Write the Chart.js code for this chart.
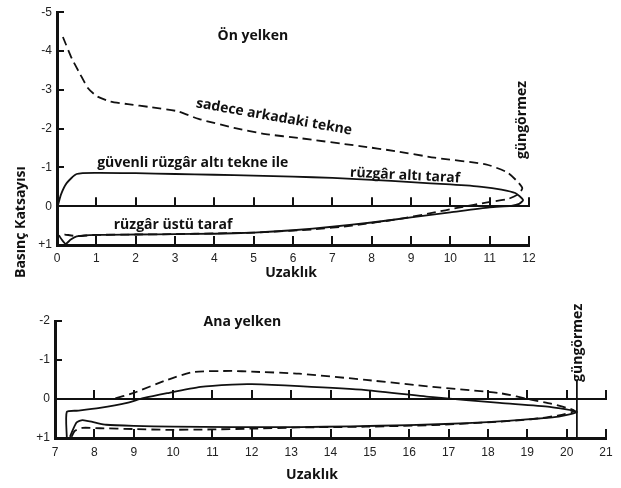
<!DOCTYPE html>
<html lang="tr">
<head>
<meta charset="utf-8">
<script src="https://cdn.jsdelivr.net/npm/chart.js@4/dist/chart.umd.min.js"></script>
<style>
  html, body { margin: 0; padding: 0; background: #fff; }
  #kutu { position: relative; width: 621px; height: 488px; }
  canvas { position: absolute; left: 0; }
</style>
</head>
<body>
<div id="kutu">
  <canvas id="onYelken" width="621" height="300" style="top:0"></canvas>
  <canvas id="anaYelken" width="621" height="188" style="top:300px"></canvas>
</div>
<script>
// Ön yelken - eksenler
const onXTicks = [0, 1, 2, 3, 4, 5, 6, 7, 8, 9, 10, 11, 12];
const onYTicks = [-5, -4, -3, -2, -1, 0, 1];

// güvenli rüzgâr altı tekne ile (düz çizgi)
const onGuvenliX = [0.02, 0.1, 0.25, 0.5, 1, 2, 3, 4, 5, 6, 7, 8, 9, 10, 10.8, 11.3, 11.65, 11.85, 11.75, 11.55, 11, 10, 9, 8, 7, 6, 5, 4, 3, 2, 1, 0.5, 0.35, 0.22, 0.12, 0.05];
const onGuvenliY = [0, -0.3, -0.6, -0.83, -0.86, -0.85, -0.83, -0.81, -0.79, -0.76, -0.73, -0.68, -0.62, -0.56, -0.5, -0.43, -0.34, -0.16, -0.06, -0.01, 0.03, 0.16, 0.29, 0.42, 0.53, 0.62, 0.68, 0.71, 0.72, 0.73, 0.74, 0.78, 0.86, 0.97, 0.86, 0.75];

// sadece arkadaki tekne (kesikli)
const onSadeceX = [0.15, 0.38, 0.58, 0.79, 1.02, 1.35, 1.8, 2.4, 3.05, 3.6, 4.5, 5.3, 6.2, 7.7, 8.6, 9.6, 10.9, 11.45, 11.73, 11.83, 11.73, 11.45, 10.94, 10.25, 9.5, 8.7, 7.5, 6.5, 5, 4, 3, 2, 1, 0.5, 0.2, 0.1];
const onSadeceY = [-4.36, -3.8, -3.42, -3.04, -2.83, -2.7, -2.63, -2.55, -2.45, -2.25, -2.02, -1.86, -1.75, -1.55, -1.42, -1.25, -1.08, -0.87, -0.61, -0.46, -0.31, -0.18, -0.1, 0.03, 0.18, 0.33, 0.5, 0.6, 0.68, 0.7, 0.72, 0.73, 0.74, 0.77, 0.73, 0.72];

// Ana yelken - eksenler
const anaXTicks = [7, 8, 9, 10, 11, 12, 13, 14, 15, 16, 17, 18, 19, 20, 21];
const anaYTicks = [-2, -1, 0, 1];

const anaGuvenliX = [7.38, 7.45, 7.55, 7.7, 8.0, 8.3, 9, 10, 11.5, 13.2, 14.5, 16, 17.47, 18.5, 19.3, 19.8, 20.26, 19.57, 18.3, 16.6, 14.9, 13.2, 12, 11.5, 10.7, 9.85, 9.24, 8.83, 8.14, 7.6, 7.3, 7.3];
const anaGuvenliY = [0.97, 0.8, 0.6, 0.54, 0.6, 0.66, 0.69, 0.71, 0.72, 0.72, 0.7, 0.67, 0.62, 0.56, 0.5, 0.45, 0.33, 0.2, 0.1, -0.05, -0.23, -0.33, -0.38, -0.37, -0.31, -0.15, -0.02, 0.1, 0.23, 0.3, 0.33, 1.0];

const anaSadeceX = [7.42, 7.5, 7.7, 8.14, 9, 9.85, 11, 12, 13.2, 14.9, 16.6, 18, 19.1, 19.8, 20.2, 19.6, 19.15, 18.3, 16.6, 14.9, 13.2, 12, 11.5, 10.5, 9.85, 8.98, 8.47];
const anaSadeceY = [0.97, 0.82, 0.74, 0.75, 0.77, 0.79, 0.78, 0.76, 0.73, 0.71, 0.67, 0.6, 0.52, 0.42, 0.3, 0.12, 0.03, -0.15, -0.31, -0.49, -0.65, -0.7, -0.72, -0.69, -0.49, -0.15, 0.0];

// güngörmez çizgisi
const anaGungormezX = [20.26, 20.26];
const anaGungormezY = [-0.49, 1];

const siyah = '#111';
const tickFont = { family: '"Liberation Sans", Arial, sans-serif', size: 12 };

function noktalar(xs, ys) {
    return xs.map((x, i) => ({ x: x, y: ys[i] }));
}

function cizgi(xs, ys, kesikli) {
    return {
        data: noktalar(xs, ys),
        xAxisID: 'x',
        yAxisID: 'y',
        showLine: true,
        borderColor: siyah,
        borderWidth: 1.8,
        borderDash: kesikli ? [9, 5] : [],
        pointRadius: 0,
        tension: 0.2
    };
}

// Yazilar, veri koordinatlarinda konumlanir
function etiketEklentisi(liste) {
    return {
        id: 'etiketler',
        afterDraw(chart) {
            const ctx = chart.ctx;
            const sx = chart.scales.x, sy = chart.scales.y;
            liste.forEach(e => {
                ctx.save();
                ctx.translate(sx.getPixelForValue(e.x), sy.getPixelForValue(e.y));
                ctx.rotate((e.aci || 0) * Math.PI / 180);
                ctx.font = 'bold ' + (e.boyut || 14) + 'px "Open Sans", sans-serif';
                ctx.fillStyle = siyah;
                ctx.textAlign = 'center';
                ctx.textBaseline = 'middle';
                ctx.fillText(e.metin, 0, 0);
                ctx.restore();
            });
        }
    };
}

// Eksen cizgilerinin icine dogru kisa tik isaretleri
const tikEklentisi = {
    id: 'tikler',
    afterDraw(chart) {
        const ctx = chart.ctx;
        const sx = chart.scales.x, sy = chart.scales.y;
        const yAlt = sy.getPixelForValue(sy.max);
        const ySifir = sy.getPixelForValue(0);
        ctx.save();
        ctx.strokeStyle = siyah;
        ctx.lineWidth = 2;
        sx.ticks.forEach(t => {
            const px = Math.round(sx.getPixelForValue(t.value));
            [yAlt, ySifir].forEach(py => {
                ctx.beginPath();
                ctx.moveTo(px, py);
                ctx.lineTo(px, py - 9);
                ctx.stroke();
            });
        });
        sy.ticks.forEach(t => {
            const py = Math.round(sy.getPixelForValue(t.value));
            ctx.beginPath();
            ctx.moveTo(sx.left, py);
            ctx.lineTo(sx.left + 7, py);
            ctx.stroke();
        });
        ctx.restore();
    }
};

function olcekler(xTicks, yTicks, yGenislik, xYukseklik, xPadding) {
    const xmin = xTicks[0], xmax = xTicks[xTicks.length - 1];
    return {
        x: {
            type: 'linear', position: 'bottom', min: xmin, max: xmax,
            afterBuildTicks: s => { s.ticks = xTicks.map(v => ({ value: v })); },
            afterFit: s => { s.height = xYukseklik; },
            ticks: { font: tickFont, color: '#222', padding: xPadding },
            grid: { display: false, drawTicks: false },
            border: { color: siyah, width: 3 }
        },
        x0: {
            type: 'linear', position: { y: 0 }, min: xmin, max: xmax,
            ticks: { display: false },
            grid: { display: false, drawTicks: false },
            border: { color: siyah, width: 2 }
        },
        y: {
            type: 'linear', position: 'left', reverse: true,
            min: yTicks[0], max: yTicks[yTicks.length - 1],
            afterBuildTicks: s => { s.ticks = yTicks.map(v => ({ value: v })); },
            afterFit: s => { s.width = yGenislik; },
            ticks: {
                font: tickFont, color: '#222', padding: 5,
                callback: v => v > 0 ? '+' + v : String(v)
            },
            grid: { display: false, drawTicks: false },
            border: { color: siyah, width: 3 }
        }
    };
}

const onEtiketler = [
    { metin: 'Ön yelken', x: 4.98, y: -4.39 },
    { metin: 'sadece arkadaki tekne', x: 5.52, y: -2.3, aci: 10 },
    { metin: 'güvenli rüzgâr altı tekne ile', x: 3.45, y: -1.12 },
    { metin: 'rüzgâr altı taraf', x: 8.85, y: -0.79, aci: 3 },
    { metin: 'rüzgâr üstü taraf', x: 2.95, y: 0.49 },
    { metin: 'güngörmez', x: 11.82, y: -2.22, aci: -90 },
    { metin: 'Basınç Katsayısı', x: -0.92, y: 0.41, aci: -90, boyut: 14 },
    { metin: 'Uzaklık', x: 5.95, y: 1.71 }
];

const anaEtiketler = [
    { metin: 'Ana yelken', x: 11.76, y: -1.97 },
    { metin: 'güngörmez', x: 20.29, y: -1.44, aci: -90 },
    { metin: 'Uzaklık', x: 13.53, y: 1.95 }
];

new Chart('onYelken', {
    type: 'scatter',
    data: {
        datasets: [
            cizgi(onGuvenliX, onGuvenliY, false),
            cizgi(onSadeceX, onSadeceY, true)
        ]
    },
    options: {
        responsive: false,
        animation: false,
        devicePixelRatio: 1,
        layout: { padding: { left: 0, top: 10, right: 92, bottom: 0 } },
        plugins: { legend: { display: false }, tooltip: { enabled: false } },
        scales: olcekler(onXTicks, onYTicks, 57, 55, 6)
    },
    plugins: [tikEklentisi, etiketEklentisi(onEtiketler)]
});

new Chart('anaYelken', {
    type: 'scatter',
    data: {
        datasets: [
            cizgi(anaGuvenliX, anaGuvenliY, false),
            cizgi(anaSadeceX, anaSadeceY, true),
            cizgi(anaGungormezX, anaGungormezY, false)
        ]
    },
    options: {
        responsive: false,
        animation: false,
        devicePixelRatio: 1,
        layout: { padding: { left: 0, top: 21, right: 15, bottom: 0 } },
        plugins: { legend: { display: false }, tooltip: { enabled: false } },
        scales: olcekler(anaXTicks, anaYTicks, 55, 50, 7)
    },
    plugins: [tikEklentisi, etiketEklentisi(anaEtiketler)]
});
</script>
</body>
</html>
